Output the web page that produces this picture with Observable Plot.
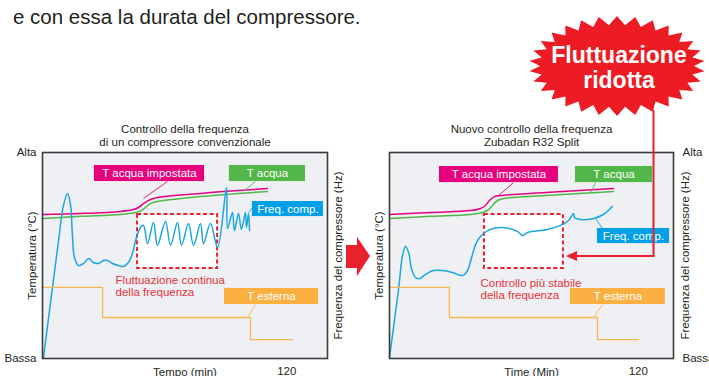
<!DOCTYPE html>
<html><head><meta charset="utf-8">
<script src="https://cdn.jsdelivr.net/npm/d3@7"></script>
<script src="https://cdn.jsdelivr.net/npm/@observablehq/plot@0.6"></script>
<style>
html,body{margin:0;padding:0;background:#fff;}
#wrap{position:relative;width:709px;height:376px;overflow:hidden;background:#fff;font-family:"Liberation Sans",Arial,Helvetica,sans-serif;}
#intro{position:absolute;left:13px;top:7px;font-size:20.5px;line-height:20px;color:#231f20;white-space:nowrap;}
.panel{position:absolute;top:0;}
#overlay{position:absolute;left:0;top:0;pointer-events:none;}
</style></head>
<body>
<div id="wrap">
  <div id="intro">e con essa la durata del compressore.</div>
  <div id="p1" class="panel" style="left:0px"></div>
  <div id="p2" class="panel" style="left:354px"></div>
  <svg id="overlay" width="709" height="376"></svg>
</div>
<script>
// ---- text ----
const introText = "e con essa la durata del compressore.";
const leftTitle = ["Controllo della frequenza", "di un compressore convenzionale"];
const rightTitle = ["Nuovo controllo della frequenza", "Zubadan R32 Split"];
const yTickLabels = ["Bassa", "Alta"];
const xTick = [120];
const leftXLabel = "Tempo (min)";
const rightXLabel = "Time (Min)";
const yLeftLabel = "Temperatura (°C)";
const yRightLabel = "Frequenza del compressore (Hz)";
const seriesNames = ["T acqua impostata", "T acqua", "Freq. comp.", "T esterna"];
const leftNote = "Fluttuazione continua\ndella frequenza";
const rightNote = "Controllo più stabile\ndella frequenza";
const burstText = ["Fluttuazione", "ridotta"];

// ---- series values: [time (min), level (0 = Bassa, 100 = Alta)] ----
const convSetWater = [[0,69.9],[18.7,70.4],[38.3,71.4],[44.7,72.3],[47.2,73.3],[49.1,74.8],[51.1,76.2],[54.5,77.7],[77.6,80.1],[110.5,82.5]];
const convWater = [[0,68.0],[18.7,69.0],[38.3,69.9],[45.7,70.9],[48.6,71.8],[51.1,73.8],[53.0,75.2],[56.5,76.2],[77.6,78.6],[110.5,81.1]];
const convFreq = [[0.5,0.5],[7.9,57.3],[10.3,74.3],[12.3,80.1],[13.8,74.3],[14.7,59.7],[15.7,49.0],[17.7,45.1],[20.1,46.1],[22.6,48.5],[25.0,46.6],[27.5,46.1],[30.0,47.6],[31.9,47.6],[34.4,46.1],[37.3,45.1],[39.8,44.7],[42.2,46.6],[44.2,51.0],[45.7,57.3],[48.1,63.6],[49.6,64.6],[51.6,55.8],[54.5,66.0],[56.5,54.9],[60.4,66.5],[62.9,54.9],[66.3,66.0],[68.3,54.9],[71.7,65.5],[74.2,54.9],[77.6,65.5],[79.1,55.8],[82.5,65.5],[86.0,53.9],[90.4,83.0],[90.9,63.1],[93.3,70.9],[94.3,62.1],[96.3,70.4],[97.7,62.6],[99.7,70.9],[100.2,63.6],[101.2,70.4],[101.7,62.1]];
const convOutdoor = [[0,34.5],[29.5,34.5],[29.5,19.9],[102.2,19.9],[102.2,9.2],[122.8,9.2]];

const newSetWater = [[0,69.9],[19.8,70.9],[39.1,71.8],[43.9,72.8],[46.3,74.3],[48.2,76.7],[50.7,78.6],[53.5,79.1],[75.3,80.6],[108.1,82.5]];
const newWater = [[0,68.0],[19.8,69.0],[39.1,69.9],[44.9,70.9],[47.8,72.3],[49.7,74.3],[52.1,76.7],[55.0,77.7],[75.3,79.1],[108.1,81.1]];
const newFreq = [[0,0.5],[4.3,33.0],[6.3,50.0],[7.7,54.4],[9.2,51.5],[10.6,43.7],[12.5,39.3],[14.5,38.8],[17.4,40.8],[21.2,42.7],[25.6,42.7],[30.4,41.7],[35.2,40.3],[37.6,42.7],[39.6,49.0],[41.5,55.3],[43.9,59.2],[47.3,62.1],[53.5,63.6],[61.7,61.7],[64.2,59.7],[66.6,61.2],[76.2,62.6],[82.5,64.6],[86.3,67.0],[88.8,70.4],[89.2,68.4],[92.1,67.5],[98.4,68.0],[103.2,69.9],[107.5,73.8]];
const newOutdoor = [[0,34.5],[28.9,34.5],[28.9,19.9],[100.3,19.9],[100.3,9.2],[120.1,9.2]];

// ---- annotation placement (data units) ----
const leftBoxPos = [[25.5,79.6,85.9,93.7],[91.8,129.2,85.9,93.7],[103.1,138.0,68.9,76.2],[89.4,135.6,26.2,34.0]];
const rightBoxPos = [[24.1,81.5,85.4,93.2],[89.7,126.9,85.4,93.2],[100.3,135.1,55.8,63.1],[87.3,133.1,26.2,34.0]];
const leftLeaders = [[61.4,85.9,49.6,77.7],[104.6,85.9,98.7,81.1],[103.1,73.3,101.2,70.9],[104.6,26.2,100.7,19.9]];
const rightLeaders = [[59.8,85.4,52.1,78.6],[99.4,85.4,97.0,80.6],[102.7,63.1,99.4,68.0],[102.7,26.2,98.4,19.9]];
const leftZone = [46.7,86.0,43.7,69.9];
const rightZone = [45.8,83.9,43.7,69.9];
const leftNotePos = [35.9,35.2];
const rightNotePos = [43.9,33.7];

const FONT = '"Liberation Sans", Arial, Helvetica, sans-serif';
const PINK = "#e5007e", GREEN = "#4fb748", BLUE = "#1ba6e2", RED = "#e8212d";
const BOXFILL = ["#e6007e", "#50b748", "#00a0e9", "#fbb040"];
const LINECOL = [PINK, GREEN, BLUE, "#f7b64f"];

function panel(opts) {
  const {series, boxes, leaders, zone, note, notePos, title, xLabel, xDomain, side, ml, mr} = opts;
  const boxData = boxes.map((b, i) => ({x1: b[0], x2: b[1], y1: b[2], y2: b[3], label: seriesNames[i], fill: BOXFILL[i]}));
  const leaderData = leaders.map((l, i) => ({x1: l[0], y1: l[1], x2: l[2], y2: l[3], stroke: LINECOL[i]}));
  const lineMarks = series.map((s, i) => Plot.line(s, {
    x: d => d[0], y: d => d[1], stroke: LINECOL[i],
    strokeWidth: i === 3 ? 1.3 : 1.5,
    curve: i === 3 ? "linear" : "catmull-rom"
  }));
  const T = (extra) => Object.assign({text: d => d, fontSize: 11.5, textAnchor: "middle", lineAnchor: "middle"}, extra);
  return Plot.plot({
    width: 355, height: 376,
    marginLeft: ml, marginRight: mr, marginTop: 152, marginBottom: 18,
    x: {domain: xDomain}, y: {domain: [0, 100]},
    style: {background: "transparent", overflow: "visible", fontFamily: FONT, fontSize: "11.5px", color: "#231f20"},
    marks: [
      Plot.frame({fill: "#eef0f3"}),
      Plot.rect([zone], {x1: d => d[0], x2: d => d[1], y1: d => d[2], y2: d => d[3], fill: "white", stroke: RED, strokeWidth: 2, strokeDasharray: "4,2.6"}),
      ...lineMarks,
      Plot.link(leaderData, {x1: "x1", y1: "y1", x2: "x2", y2: "y2", stroke: "stroke", strokeWidth: 0.9}),
      Plot.rect(boxData, {x1: "x1", x2: "x2", y1: "y1", y2: "y2", fill: "fill"}),
      Plot.text(boxData, {x: d => (d.x1 + d.x2) / 2, y: d => (d.y1 + d.y2) / 2, text: "label", fill: "white", fontSize: 11.5}),
      Plot.text([note], {x: notePos[0], y: notePos[1], text: d => d, textAnchor: "start", fill: "#e8313a", fontSize: 11.5, lineHeight: 1.1}),
      Plot.frame({stroke: "#3a3a3a", strokeWidth: 1.6}),
      Plot.axisY({anchor: side, ticks: [0, 100], tickFormat: d => d === 100 ? yTickLabels[1] : yTickLabels[0], tickSize: 0, tickPadding: side === "left" ? 6 : 9, label: null, fontSize: 11.5}),
      Plot.axisX({ticks: xTick, tickSize: 0, tickPadding: 8, label: null, fontSize: 11.5}),
      Plot.text([xLabel], T({frameAnchor: "bottom", dy: 14})),
      Plot.text([title[0]], T({frameAnchor: "top", dy: -23})),
      Plot.text([title[1]], T({frameAnchor: "top", dy: -10})),
      Plot.text([yLeftLabel], T({frameAnchor: "left", rotate: -90, dx: -10})),
      Plot.text([yRightLabel], T({frameAnchor: "right", rotate: -90, dx: side === "left" ? 11 : 12}))
    ]
  });
}

document.getElementById("p1").append(panel({
  series: [convSetWater, convWater, convFreq, convOutdoor],
  boxes: leftBoxPos, leaders: leftLeaders, zone: leftZone, note: leftNote, notePos: leftNotePos,
  title: leftTitle, xLabel: leftXLabel, xDomain: [0, 140], side: "left", ml: 42, mr: 28
}));
document.getElementById("p2").append(panel({
  series: [newSetWater, newWater, newFreq, newOutdoor],
  boxes: rightBoxPos, leaders: rightLeaders, zone: rightZone, note: rightNote, notePos: rightNotePos,
  title: rightTitle, xLabel: rightXLabel, xDomain: [0, 137], side: "right", ml: 35, mr: 36
}));

// ---- decorations: starburst, connector, big arrow ----
const ov = d3.select("#overlay");
const cx = 617, cy = 66, n = 30;
const pts = [];
for (let i = 0; i < 2 * n; i++) {
  const a = Math.PI * i / n - Math.PI / 2;
  const rx = i % 2 ? 77 : 88, ry = i % 2 ? 41 : 50;
  pts.push([cx + rx * Math.cos(a), cy + ry * Math.sin(a)]);
}
ov.append("path").attr("d", "M" + pts.map(p => p.join(",")).join("L") + "Z").attr("fill", "#ed1c24");
ov.append("text").attr("x", cx + 2).attr("y", cy - 3).attr("text-anchor", "middle")
  .attr("font-family", FONT).attr("font-weight", "bold").attr("font-size", 23).attr("fill", "white").text(burstText[0]);
ov.append("text").attr("x", cx + 2).attr("y", cy + 22).attr("text-anchor", "middle")
  .attr("font-family", FONT).attr("font-weight", "bold").attr("font-size", 23).attr("fill", "white").text(burstText[1]);
ov.append("path").attr("d", "M653.5,110V256H576").attr("fill", "none").attr("stroke", RED).attr("stroke-width", 2);
ov.append("path").attr("d", "M566,256L577,251L577,261Z").attr("fill", RED);
ov.append("path").attr("d", "M346,245H357V237L370,256L357,276V268H346Z").attr("fill", "#e8212d");
</script>
</body></html>
